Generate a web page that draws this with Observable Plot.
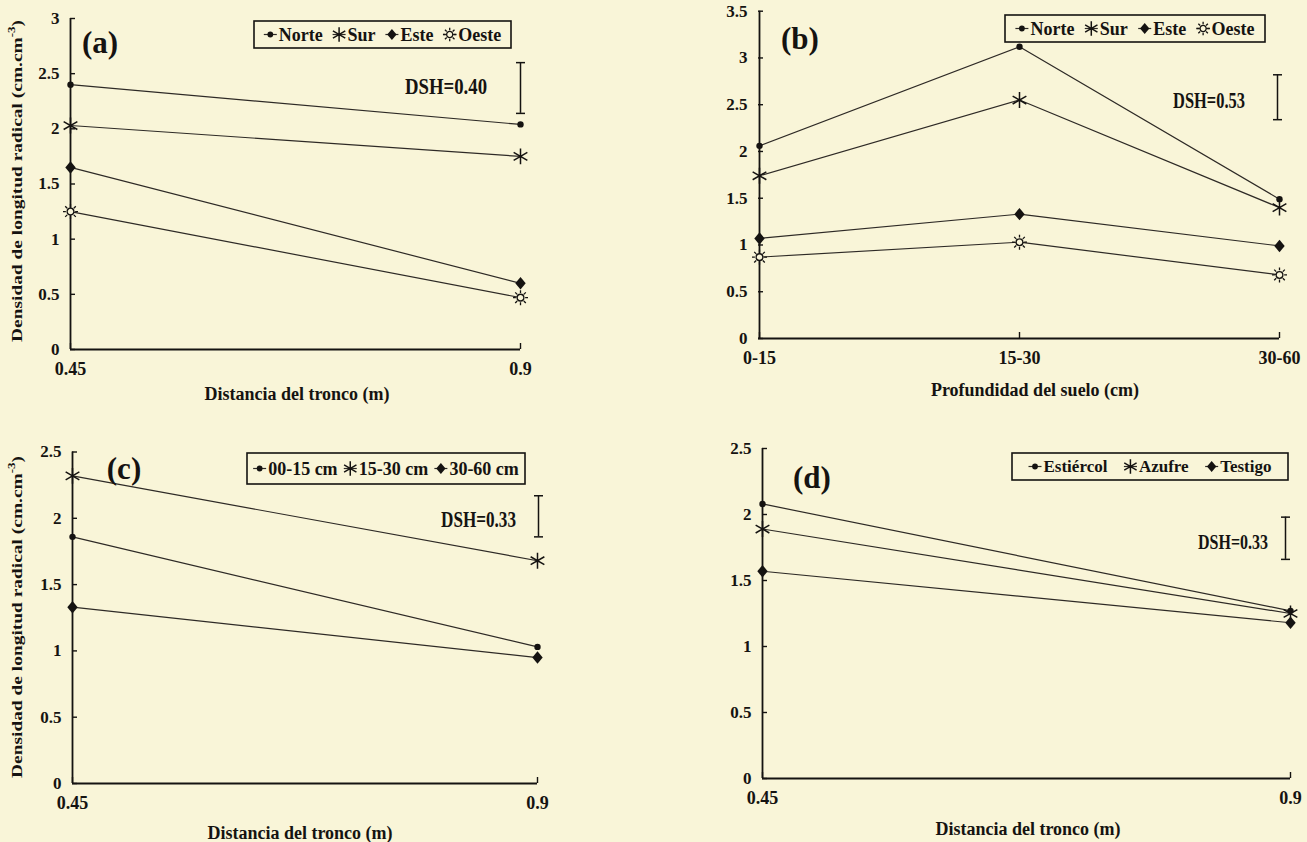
<!DOCTYPE html>
<html><head><meta charset="utf-8">
<script src="https://cdn.jsdelivr.net/npm/d3@7"></script>
<script src="https://cdn.jsdelivr.net/npm/@observablehq/plot@0.6"></script>
<style>
body{margin:0;background:#f9f5d8;}
#page{position:relative;width:1307px;height:842px;background:#f9f5d8;overflow:hidden;}
#page svg{position:absolute;left:0;top:0;}
</style></head><body><div id="page"></div>
<script>
// ---------------- DATA ----------------
const distX = [0.45, 0.9];
const depthX = ["0-15", "15-30", "30-60"];
const orientNames = ["Norte", "Sur", "Este", "Oeste"];
const aNorte = [2.40, 2.04];
const aSur   = [2.03, 1.75];
const aEste  = [1.65, 0.60];
const aOeste = [1.25, 0.47];
const bNorte = [2.06, 3.12, 1.49];
const bSur   = [1.74, 2.55, 1.40];
const bEste  = [1.07, 1.33, 0.99];
const bOeste = [0.87, 1.03, 0.68];
const depthNames = ["00-15 cm", "15-30 cm", "30-60 cm"];
const c0015 = [1.86, 1.03];
const c1530 = [2.32, 1.68];
const c3060 = [1.33, 0.95];
const treatNames = ["Estiércol", "Azufre", "Testigo"];
const dEstiercol = [2.08, 1.27];
const dAzufre    = [1.89, 1.25];
const dTestigo   = [1.57, 1.18];
const yTicksA = [0, 0.5, 1, 1.5, 2, 2.5, 3];
const yTicksB = [0, 0.5, 1, 1.5, 2, 2.5, 3, 3.5];
const yTicksCD = [0, 0.5, 1, 1.5, 2, 2.5];
const dshLabels = ["DSH=0.40", "DSH=0.53", "DSH=0.33", "DSH=0.33"];
const dshA = [2.60, 2.14];
const dshB = [2.82, 2.34];
const dshC = [2.17, 1.86];
const dshD = [1.98, 1.66];
const panelLetters = ["(a)", "(b)", "(c)", "(d)"];
const yTitle = "Densidad de longitud radical (cm.cm";
const xTitleDist = "Distancia del tronco (m)";
const xTitleDepth = "Profundidad del suelo (cm)";

// ---------------- STYLE ----------------
const W = 1307, H = 842, bg = "#f9f5d8", ink = "#151311", lineInk = "#2e2a26";
const FONT = '"Liberation Serif", "Times New Roman", serif';
const sunSymbol = {draw(ctx, size) {
  const r = Math.sqrt(size / Math.PI), c = r * 0.45;
  ctx.moveTo(c, 0); ctx.arc(0, 0, c, 0, 2 * Math.PI);
  for (let i = 0; i < 8; i++) {
    const a = i * Math.PI / 4;
    ctx.moveTo(Math.cos(a) * r * 0.62, Math.sin(a) * r * 0.62);
    ctx.lineTo(Math.cos(a) * r, Math.sin(a) * r);
  }
}};
const diamondSymbol = {draw(ctx, size) {
  const r = Math.sqrt(size / Math.PI);
  ctx.moveTo(0, -r * 1.2); ctx.lineTo(r, 0); ctx.lineTo(0, r * 1.2); ctx.lineTo(-r, 0); ctx.closePath();
}};
const capSymbol = {draw(ctx, size) {
  const r = Math.sqrt(size / Math.PI);
  ctx.moveTo(-r, 0); ctx.lineTo(r, 0);
}};
const markerStyles = {
  dot:     {symbol: "circle",      d3: d3.symbolCircle,   r: 3.2, fill: ink,  stroke: "none", sw: 0},
  star:    {symbol: "asterisk",    d3: d3.symbolAsterisk, r: 7.5, fill: "none", stroke: ink, sw: 1.5},
  diamond: {symbol: diamondSymbol, d3: diamondSymbol,     r: 5.2, fill: ink,  stroke: "none", sw: 0},
  sun:     {symbol: sunSymbol,     d3: sunSymbol,         r: 7.5, fill: bg,   stroke: ink, sw: 1.3}
};
const markerKinds4 = ["dot", "star", "diamond", "sun"];
const markerKinds3 = ["dot", "star", "diamond"];

const page = document.getElementById("page");

function panel(cfg) {
  const rows = cfg.series.flatMap(s => s.values.map((v, i) => ({series: s.name, x: cfg.xValues[i], y: v})));
  const [fl, fr, ft, fb] = cfg.frame;
  const xScale = cfg.point
    ? {type: "point", domain: cfg.xValues, padding: 0}
    : {type: "linear", domain: [cfg.xValues[0], cfg.xValues[cfg.xValues.length - 1]]};
  const last = cfg.xValues[cfg.xValues.length - 1];
  const dshRow = [{x: last, y1: cfg.dsh[0], y2: cfg.dsh[1]}];
  const marks = [
    Plot.ruleX([cfg.xValues[0]], {stroke: ink, strokeWidth: 1.8}),
    Plot.ruleY([0], {stroke: ink, strokeWidth: 1.8}),
    Plot.axisY({ticks: cfg.yTicks, tickSize: 5, dx: 5, tickFormat: () => "", label: null, color: ink, strokeWidth: 1.4}),
    Plot.axisY({ticks: cfg.yTicks, tickSize: 0, tickPadding: 11, tickFormat: d => String(d), label: null,
      fontSize: 17, fontWeight: "bold", color: ink}),
    Plot.axisX({ticks: cfg.xValues, tickSize: 6, dy: -6, tickFormat: () => "", label: null, color: ink, strokeWidth: 1.4}),
    Plot.axisX({ticks: cfg.xValues, tickSize: 0, tickPadding: 13, tickFormat: d => String(d), label: null,
      fontSize: 18, fontWeight: "bold", color: ink}),
    Plot.line(rows, {x: "x", y: "y", z: "series", stroke: lineInk, strokeWidth: 1.2}),
    ...cfg.series.map(s => {
      const st = markerStyles[s.marker];
      return Plot.dot(rows.filter(r => r.series === s.name),
        {x: "x", y: "y", symbol: st.symbol, r: st.r, fill: st.fill, stroke: st.stroke, strokeWidth: st.sw});
    }),
    Plot.ruleX(dshRow, {x: "x", y1: "y1", y2: "y2", dx: cfg.dshDx, stroke: ink, strokeWidth: 1.5}),
    Plot.dot(dshRow.flatMap(d => [{x: d.x, y: d.y1}, {x: d.x, y: d.y2}]),
      {x: "x", y: "y", dx: cfg.dshDx, symbol: capSymbol, r: 4.5, fill: "none", stroke: ink, strokeWidth: 1.5})
  ];
  const svg = Plot.plot({
    width: W, height: H,
    marginLeft: fl, marginRight: W - fr, marginTop: ft, marginBottom: H - fb,
    x: xScale, y: {domain: [0, cfg.yMax]},
    style: {background: "transparent", fontFamily: FONT, overflow: "visible", color: ink},
    marks
  });
  const s = d3.select(svg);
  s.selectAll("text").style("font-family", FONT).style("font-weight", "bold").style("font-size", "17px").style("fill", ink);
  s.selectAll('[aria-label^="x-axis"] text').style("font-size", "18px");
  page.appendChild(svg);
}

panel({frame: [70, 520, 18, 349], xValues: distX, yMax: 3, yTicks: yTicksA, dsh: dshA, dshDx: 0,
  series: orientNames.map((n, i) => ({name: n, values: [aNorte, aSur, aEste, aOeste][i], marker: markerKinds4[i]}))});
panel({frame: [758, 1279, 10.7, 338], xValues: depthX, point: true, yMax: 3.5, yTicks: yTicksB, dsh: dshB, dshDx: -2,
  series: orientNames.map((n, i) => ({name: n, values: [bNorte, bSur, bEste, bOeste][i], marker: markerKinds4[i]}))});
panel({frame: [72, 537, 451.5, 783], xValues: distX, yMax: 2.5, yTicks: yTicksCD, dsh: dshC, dshDx: 1,
  series: depthNames.map((n, i) => ({name: n, values: [c0015, c1530, c3060][i], marker: markerKinds3[i]}))});
panel({frame: [762, 1290, 448, 778], xValues: distX, yMax: 2.5, yTicks: yTicksCD, dsh: dshD, dshDx: -5,
  series: treatNames.map((n, i) => ({name: n, values: [dEstiercol, dAzufre, dTestigo][i], marker: markerKinds3[i]}))});

// ---------------- ANNOTATIONS ----------------
const ov = d3.select(page).append("svg").attr("width", W).attr("height", H)
  .attr("font-family", FONT).attr("font-weight", "bold").attr("fill", ink);

function addText(str, x, y, o = {}) {
  const t = ov.append("text").attr("x", x).attr("y", y)
    .attr("text-anchor", o.anchor || "middle").attr("dominant-baseline", "central")
    .attr("font-size", o.size || 16).text(str);
  if (o.len) t.attr("textLength", o.len).attr("lengthAdjust", "spacingAndGlyphs");
  return t;
}
function yLabel(cx, cy, len) {
  const t = ov.append("text").attr("transform", `translate(${cx},${cy}) rotate(-90)`)
    .attr("text-anchor", "middle").attr("dominant-baseline", "central").attr("font-size", 15)
    .attr("textLength", len).attr("lengthAdjust", "spacingAndGlyphs");
  t.append("tspan").text(yTitle);
  t.append("tspan").attr("font-size", 10).attr("dy", -6).text("-3");
  t.append("tspan").attr("dy", 6).text(")");
}
function legend(names, kinds, box, size) {
  const [x, y, w, h] = box;
  ov.append("rect").attr("x", x).attr("y", y).attr("width", w).attr("height", h)
    .attr("fill", "none").attr("stroke", ink).attr("stroke-width", 1.6);
  const items = names.map((n, i) => {
    const g = ov.append("g");
    const t = g.append("text").attr("x", 15).attr("y", 0).attr("dominant-baseline", "central")
      .attr("font-size", size).text(n);
    return {g, kind: kinds[i], tw: t.node().getComputedTextLength() + 15};
  });
  const total = d3.sum(items, d => d.tw);
  const gap = (w - total) / (items.length + 1);
  let cx = x + gap;
  items.forEach(({g, kind, tw}) => {
    const st = markerStyles[kind];
    g.attr("transform", `translate(${cx},${y + h / 2})`);
    g.append("line").attr("x1", 0).attr("x2", 13).attr("y1", 0).attr("y2", 0)
      .attr("stroke", lineInk).attr("stroke-width", 1.2);
    g.append("path").attr("transform", "translate(6.5,0)")
      .attr("d", d3.symbol(st.d3, Math.PI * (st.r * 0.9) ** 2)())
      .attr("fill", st.fill).attr("stroke", st.stroke).attr("stroke-width", st.sw);
    cx += tw + gap;
  });
}

// panel letters
addText(panelLetters[0], 100, 42, {size: 31});
addText(panelLetters[1], 800, 38, {size: 31});
addText(panelLetters[2], 124, 468, {size: 31});
addText(panelLetters[3], 812, 477, {size: 31});
// legends
legend(orientNames, markerKinds4, [254, 21, 257, 27], 18);
legend(orientNames, markerKinds4, [1005, 15, 260, 27], 18);
legend(depthNames, markerKinds3, [247, 453, 278, 31], 18);
legend(treatNames, markerKinds3, [1012, 453, 276, 27], 17);
// DSH labels
addText(dshLabels[0], 487, 86, {anchor: "end", size: 24, len: 82});
addText(dshLabels[1], 1245, 100, {anchor: "end", size: 23, len: 72});
addText(dshLabels[2], 516, 519, {anchor: "end", size: 23, len: 75});
addText(dshLabels[3], 1268, 541, {anchor: "end", size: 22, len: 70});
// axis titles
addText(xTitleDist, 297, 394, {size: 18});
addText(xTitleDepth, 1035, 390, {size: 18});
addText(xTitleDist, 300, 833, {size: 18});
addText(xTitleDist, 1028, 829, {size: 18});
yLabel(17, 181, 322);
yLabel(17, 617, 322);
</script></body></html>
